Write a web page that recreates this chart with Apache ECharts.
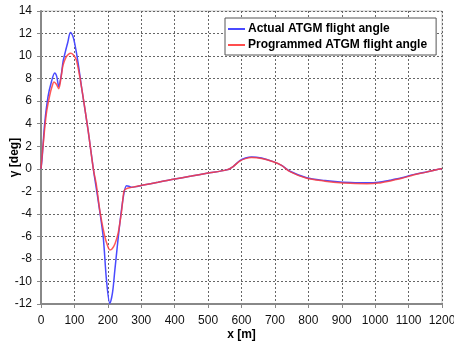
<!DOCTYPE html>
<html>
<head>
<meta charset="utf-8">
<script src="https://cdn.jsdelivr.net/npm/echarts@6/dist/echarts.min.js"></script>
<style>
html, body { margin: 0; padding: 0; background: #fff; }
#chart { width: 454px; height: 347px; }
</style>
</head>
<body>
<div id="chart"></div>
<script>
// actual flight angle (blue)
var actualX = [0, 3, 11, 21, 31, 41, 47, 53, 60, 66, 73, 80, 88, 95, 101, 111, 121, 141, 157, 170, 186, 196, 206, 214, 221, 236, 248, 256, 263, 271, 290, 306, 350, 396, 450, 496, 556, 575, 595, 612, 630, 660, 695, 720, 745, 795, 850, 895, 940, 975, 1010, 1044, 1080, 1114, 1150, 1189, 1200];
var actualY = [0, 0.8, 4.0, 6.4, 7.7, 8.5, 8.2, 7.3, 8.2, 9.5, 10.4, 11.2, 12.1, 11.8, 11.1, 9.4, 7.3, 3.4, -0.1, -2.6, -6.0, -9.9, -11.95, -11.0, -9.0, -4.8, -2.2, -1.5, -1.55, -1.65, -1.55, -1.45, -1.2, -0.93, -0.65, -0.4, -0.1, 0.2, 0.72, 0.95, 1.05, 0.95, 0.63, 0.3, -0.22, -0.8, -1.05, -1.18, -1.24, -1.25, -1.2, -1.02, -0.8, -0.52, -0.3, -0.05, 0];

// programmed flight angle (red)
var programmedX = [0, 6, 16, 26, 33, 39, 46, 53, 60, 66, 75, 82, 89, 97, 106, 121, 141, 157, 165, 177, 190, 200, 206, 213, 222, 231, 241, 248, 253, 271, 306, 350, 396, 450, 496, 556, 575, 595, 612, 630, 660, 695, 720, 745, 795, 850, 895, 940, 975, 1010, 1044, 1080, 1114, 1150, 1189, 1200];
var programmedY = [0, 2.0, 4.9, 6.5, 7.3, 7.7, 7.5, 7.1, 8.1, 9.2, 9.9, 10.15, 10.25, 10.1, 9.65, 7.3, 3.4, -0.1, -1.3, -3.9, -5.9, -6.9, -7.2, -7.1, -6.6, -5.7, -3.8, -2.0, -1.8, -1.65, -1.45, -1.2, -0.93, -0.65, -0.4, -0.1, 0.2, 0.68, 0.9, 1.0, 0.92, 0.63, 0.3, -0.26, -0.85, -1.1, -1.25, -1.31, -1.32, -1.27, -1.08, -0.85, -0.55, -0.32, -0.05, 0];

var seriesNames = ['Actual ATGM flight angle', 'Programmed ATGM flight angle'];

function zip(xs, ys) {
    var out = [];
    for (var i = 0; i < xs.length; i++) out.push([xs[i], ys[i]]);
    return out;
}

var myChart = echarts.init(document.getElementById('chart'));
var font = 'Liberation Sans, Arial, sans-serif';

var option = {
    animation: false,
    backgroundColor: '#fff',
    textStyle: { fontFamily: font },
    grid: {
        left: 41, right: 12, top: 11, bottom: 43,
        outerBoundsMode: 'none',
        containLabel: false,
        show: true, borderColor: '#c8c8c8', borderWidth: 1
    },
    legend: {
        data: seriesNames,
        orient: 'vertical',
        left: 225, top: 18,
        itemWidth: 17, itemHeight: 2, itemGap: 4,
        padding: [5, 9, 4, 3],
        borderColor: '#555', borderWidth: 1,
        backgroundColor: '#fff',
        textStyle: { fontSize: 12, fontWeight: 'bold', color: '#000', fontFamily: font, padding: [0, 0, 0, -2] },
        icon: 'rect'
    },
    xAxis: {
        type: 'value', min: 0, max: 1200, interval: 100,
        name: 'x [m]', nameLocation: 'middle', nameGap: 25,
        nameMoveOverlap: false,
        nameTextStyle: { fontSize: 12, fontWeight: 'bold', color: '#000' },
        axisLine: { onZero: false, lineStyle: { color: '#888', width: 2 } },
        axisTick: { show: true, length: 4, lineStyle: { color: '#888' } },
        axisLabel: { fontSize: 12, color: '#111', margin: 11, formatter: function (v) { return String(v); } },
        splitLine: { lineStyle: { color: '#666', type: [2, 2], width: 1 } }
    },
    yAxis: {
        type: 'value', min: -12, max: 14, interval: 2,
        name: 'γ [deg]', nameLocation: 'middle', nameGap: 20, nameRotate: 90,
        nameMoveOverlap: false,
        nameTextStyle: { fontSize: 12, fontWeight: 'bold', color: '#000' },
        axisLine: { show: true, onZero: false, lineStyle: { color: '#888', width: 2 } },
        axisTick: { show: true, length: 4, lineStyle: { color: '#888' } },
        axisLabel: { fontSize: 12, color: '#111', margin: 9 },
        splitLine: { lineStyle: { color: '#666', type: [2, 2], width: 1 } }
    },
    series: [
        {
            name: seriesNames[0],
            type: 'line',
            data: zip(actualX, actualY),
            smooth: 0.3,
            showSymbol: false,
            color: '#4a4aff',
            lineStyle: { width: 1.5, color: '#4a4aff' }
        },
        {
            name: seriesNames[1],
            type: 'line',
            data: zip(programmedX, programmedY),
            smooth: 0.3,
            showSymbol: false,
            color: '#ff4d4d',
            lineStyle: { width: 1.5, color: 'rgba(255,60,60,0.85)' }
        }
    ]
};

myChart.setOption(option);
</script>
</body>
</html>
